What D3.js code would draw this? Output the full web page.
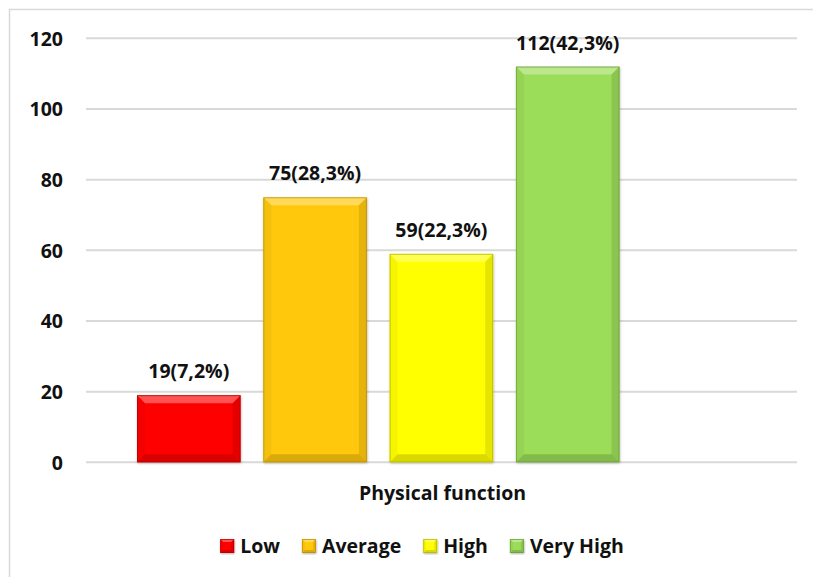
<!DOCTYPE html>
<html>
<head>
<meta charset="utf-8">
<script src="https://cdn.jsdelivr.net/npm/d3@7"></script>
<style>
  html, body { margin: 0; padding: 0; background: #fff; }
  svg { display: block; }
  text { font-family: "Open Sans", "Liberation Sans", sans-serif; font-weight: 700; fill: #111; }
</style>
</head>
<body>
<svg id="chart" width="813" height="577"></svg>
<script>
// Physical function score groups
const categories = ["Physical function"];
const seriesNames = ["Low", "Average", "High", "Very High"];
const counts = [19, 75, 59, 112];
const percents = ["7,2%", "28,3%", "22,3%", "42,3%"];
const yTicks = [0, 20, 40, 60, 80, 100, 120];

// fill / edge colour per series
const fills = ["#ff0505", "#ffc808", "#ffff00", "#9bdc58"];
const edges = ["#b00000", "#b88a00", "#b0b000", "#6a9a3a"];

const W = 813, H = 577;
const FS = 19.5;
const svg = d3.select("#chart");

// chart frame
svg.append("rect")
  .attr("x", 9.5).attr("y", 9.5)
  .attr("width", W + 20).attr("height", H + 20)
  .attr("fill", "#fff").attr("stroke", "#d9d9d9").attr("stroke-width", 1.5);

const plot = { left: 86, right: 797, top: 38.3, bottom: 462.3 };

const y = d3.scaleLinear().domain([0, 120]).range([plot.bottom, plot.top]);
const xCat = d3.scaleBand().domain(categories).range([plot.left, plot.right]);

// bars of the cluster inside the category band
const groupStart = xCat(categories[0]) + 51;
const x = d3.scaleBand().domain(seriesNames)
  .range([groupStart, groupStart + 482.5])
  .paddingInner(0.18).paddingOuter(0);

// gridlines
svg.append("g").selectAll("line").data(yTicks).join("line")
  .attr("x1", plot.left).attr("x2", plot.right)
  .attr("y1", d => y(d)).attr("y2", d => y(d))
  .attr("stroke", "#d9d9d9").attr("stroke-width", 2);

// y axis labels
const yAxis = d3.axisLeft(y).tickValues(yTicks).tickSize(0).tickPadding(0);
const gy = svg.append("g").attr("transform", `translate(${plot.left - 23},0)`).call(yAxis);
gy.select(".domain").remove();
gy.selectAll("text")
  .attr("font-size", FS).attr("font-family", null)
  .attr("dy", "0.36em").attr("fill", "#111");

// soft shadow for bevelled boxes
const defs = svg.append("defs");
const f = defs.append("filter").attr("id", "shadow")
  .attr("x", "-10%").attr("y", "-10%").attr("width", "120%").attr("height", "120%");
f.append("feDropShadow").attr("dx", 0.5).attr("dy", 1).attr("stdDeviation", 1.2)
  .attr("flood-color", "#000").attr("flood-opacity", 0.3);

function bevel(g, x0, y0, w, h, fill, edge, b) {
  const x1 = x0 + w, y1 = y0 + h;
  b = Math.min(b, h / 2, w / 2);
  const box = g.append("g");
  box.append("rect").attr("x", x0).attr("y", y0).attr("width", w).attr("height", h)
    .attr("fill", fill).attr("filter", "url(#shadow)");
  const poly = (pts, color, op) => box.append("polygon")
    .attr("points", pts.map(p => p.join(",")).join(" "))
    .attr("fill", color).attr("fill-opacity", op);
  poly([[x0, y0], [x1, y0], [x1 - b, y0 + b], [x0 + b, y0 + b]], "#fff", 0.32);
  poly([[x0, y0], [x0 + b, y0 + b], [x0 + b, y1 - b], [x0, y1]], "#000", 0.04);
  poly([[x1, y0], [x1, y1], [x1 - b, y1 - b], [x1 - b, y0 + b]], "#000", 0.1);
  poly([[x0, y1], [x0 + b, y1 - b], [x1 - b, y1 - b], [x1, y1]], "#000", 0.15);
  box.append("rect").attr("x", x0 + 0.5).attr("y", y0 + 0.5)
    .attr("width", w - 1).attr("height", h - 1)
    .attr("fill", "none").attr("stroke", edge).attr("stroke-width", 1).attr("stroke-opacity", 0.7);
}

// bars
const bars = svg.append("g");
seriesNames.forEach((s, i) => {
  const x0 = x(s), w = x.bandwidth();
  const top = y(counts[i]);
  bevel(bars, x0, top, w, plot.bottom - top, fills[i], edges[i], 8);
});

// value labels
svg.append("g").selectAll("text").data(seriesNames).join("text")
  .attr("x", d => x(d) + x.bandwidth() / 2)
  .attr("y", (d, i) => y(counts[i]) - 17)
  .attr("text-anchor", "middle").attr("font-size", FS)
  .text((d, i) => `${counts[i]}(${percents[i]})`);

// category axis title
svg.append("text")
  .attr("x", xCat(categories[0]) + xCat.bandwidth() / 2 + 1)
  .attr("y", 499.5).attr("text-anchor", "middle").attr("font-size", FS)
  .text(categories[0]);

// legend
const legend = svg.append("g");
const items = legend.selectAll("g").data(seriesNames).join("g");
items.append("text").attr("font-size", FS).attr("x", 20).attr("y", 552.5).text(d => d);
let cursor = 0;
const widths = [];
items.each(function () { widths.push(this.querySelector("text").getComputedTextLength()); });
const gap = 22;
const total = d3.sum(widths, w => 20 + w) + gap * (widths.length - 1);
cursor = 422 - total / 2;
items.each(function (d, i) {
  const g = d3.select(this).attr("transform", `translate(${cursor},0)`);
  bevel(g, 0, 539, 14, 14, fills[i], edges[i], 3);
  cursor += 20 + widths[i] + gap;
});
</script>
</body>
</html>
